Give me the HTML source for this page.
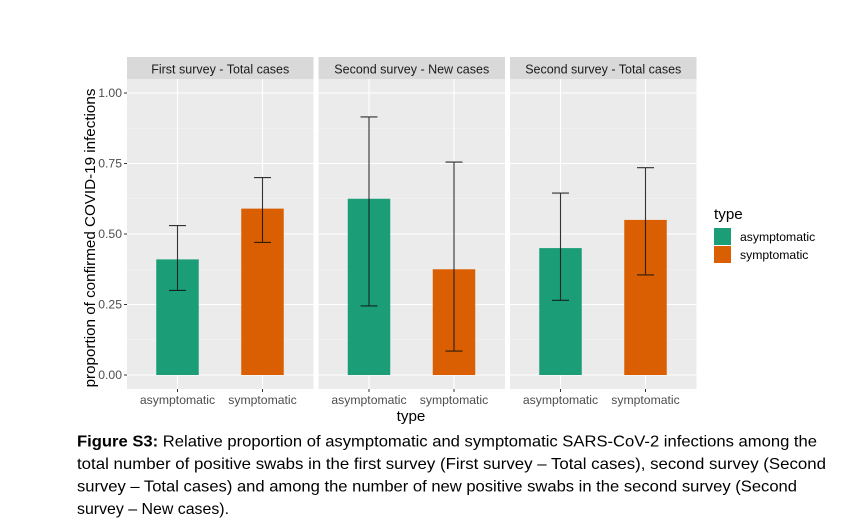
<!DOCTYPE html>
<html><head><meta charset="utf-8"><style>
body{margin:0;background:#fff;width:849px;height:526px;overflow:hidden;font-family:"Liberation Sans",sans-serif}
</style></head><body>
<svg id="chart" width="849" height="430" style="position:absolute;left:0;top:0" font-family="Liberation Sans, sans-serif"></svg>
<svg width="849" height="96" style="position:absolute;left:0;top:430px" font-family="Liberation Sans, sans-serif" font-size="16" fill="#000">
<text x="77" y="16.5" textLength="740" lengthAdjust="spacingAndGlyphs"><tspan font-weight="bold">Figure S3:</tspan> Relative proportion of asymptomatic and symptomatic SARS-CoV-2 infections among the</text>
<text x="77" y="39" textLength="749" lengthAdjust="spacingAndGlyphs">total number of positive swabs in the first survey (First survey – Total cases), second survey (Second</text>
<text x="77" y="61.5" textLength="720" lengthAdjust="spacingAndGlyphs">survey – Total cases) and among the number of new positive swabs in the second survey (Second</text>
<text x="77" y="84" textLength="152" lengthAdjust="spacingAndGlyphs">survey – New cases).</text>
</svg>
<script>
const panels=["First survey - Total cases","Second survey - New cases","Second survey - Total cases"];
const categories=["asymptomatic","symptomatic"];
const values=[[0.41,0.59],[0.625,0.375],[0.45,0.55]];
const lower=[[0.30,0.47],[0.245,0.085],[0.265,0.355]];
const upper=[[0.53,0.70],[0.915,0.755],[0.645,0.735]];
const yTicks=[0,0.25,0.5,0.75,1];
const yTickLabels=["0.00","0.25","0.50","0.75","1.00"];
const colors=["#1b9e77","#d95f02"];
const svg=document.getElementById('chart');
const NS='http://www.w3.org/2000/svg';
function mk(t,a,p){const e=document.createElementNS(NS,t);for(const k in a)e.setAttribute(k,a[k]);(p||svg).appendChild(e);return e;}
const PW=186.5,GAP=5,X0=127,TOP=79,BOT=389;
const y=v=>375-v*282;
const px=i=>X0+i*(PW+GAP);
const cx=(i,j)=>px(i)+50.5+j*85;
panels.forEach((name,i)=>{
  const g=mk('g',{});
  
  
  const strip=mk('rect',{x:px(i),y:57,width:PW,height:22,fill:'#d9d9d9'},g);
  
  const st=mk('text',{x:px(i)+PW/2,y:73.5,'text-anchor':'middle','font-size':'12.5',fill:'#1a1a1a'},g);st.textContent=name;
  
  mk('rect',{x:px(i),y:TOP,width:PW,height:BOT-TOP,fill:'#ebebeb'},g);
  [0.125,0.375,0.625,0.875].forEach(v=>mk('line',{x1:px(i),x2:px(i)+PW,y1:y(v),y2:y(v),stroke:'#f5f5f5','stroke-width':0.6},g));
  yTicks.forEach(v=>mk('line',{x1:px(i),x2:px(i)+PW,y1:y(v),y2:y(v),stroke:'#fff','stroke-width':1.1},g));
  categories.forEach((c,j)=>{
    mk('line',{x1:cx(i,j),x2:cx(i,j),y1:TOP,y2:BOT,stroke:'#fff','stroke-width':1.1},g);
    const b=mk('rect',{x:cx(i,j)-21.25,y:y(values[i][j]),width:42.5,height:y(0)-y(values[i][j]),fill:colors[j]},g);
    
    const e=mk('path',{d:`M${cx(i,j)-8.5},${y(upper[i][j])}H${cx(i,j)+8.5}M${cx(i,j)},${y(upper[i][j])}V${y(lower[i][j])}M${cx(i,j)-8.5},${y(lower[i][j])}H${cx(i,j)+8.5}`,stroke:'#111','stroke-width':1.1,fill:'none','stroke-opacity':0.85},g);
    
    mk('line',{x1:cx(i,j),x2:cx(i,j),y1:BOT,y2:BOT+3,stroke:'#333'},g);
    const t=mk('text',{x:cx(i,j),y:404,'text-anchor':'middle','font-size':'12.2',fill:'#4d4d4d'},g);t.textContent=c;
    
  });
});
yTicks.forEach((v,k)=>{
  mk('line',{x1:124,x2:127,y1:y(v),y2:y(v),stroke:'#333'});
  const t=mk('text',{x:122,y:y(v)+4,'text-anchor':'end','font-size':'12.2',fill:'#4d4d4d'});t.textContent=yTickLabels[k];
  
});
const yt=mk('text',{x:0,y:0,transform:'translate(95,238) rotate(-90)','text-anchor':'middle','font-size':'15.2',fill:'#000'});yt.textContent='proportion of confirmed COVID-19 infections';

const xt=mk('text',{x:411,y:421,'text-anchor':'middle','font-size':'15.2',fill:'#000'});xt.textContent='type';

const lt=mk('text',{x:714,y:219,'font-size':'15.2',fill:'#000'});lt.textContent='type';

categories.forEach((c,j)=>{
  const r=mk('rect',{x:714,y:228+j*18,width:17,height:17,fill:colors[j]});
  
  const t=mk('text',{x:740,y:241+j*18,'font-size':'12.2',fill:'#000'});t.textContent=c;
  
});
</script>
</body></html>
